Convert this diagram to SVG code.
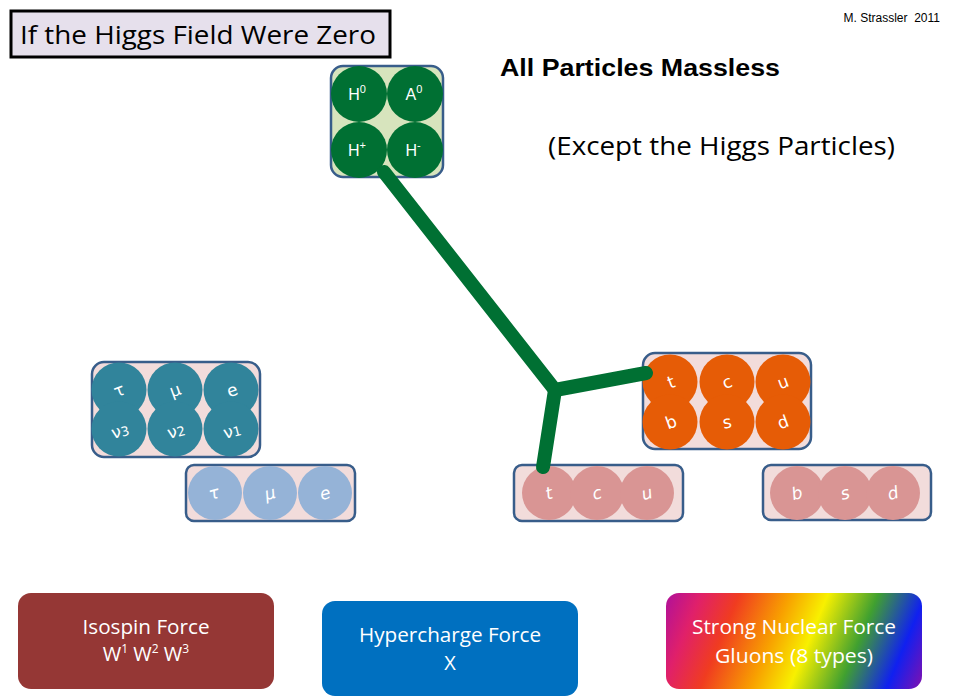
<svg xmlns="http://www.w3.org/2000/svg" width="955" height="698" viewBox="0 0 955 698">
<defs>
<linearGradient id="rainbow" gradientUnits="userSpaceOnUse" x1="666" y1="593" x2="918" y2="698">
<stop offset="0" stop-color="#b0109a"/>
<stop offset="0.12" stop-color="#e0206a"/>
<stop offset="0.25" stop-color="#f03c20"/>
<stop offset="0.42" stop-color="#f8a000"/>
<stop offset="0.55" stop-color="#f8f000"/>
<stop offset="0.72" stop-color="#40a030"/>
<stop offset="0.88" stop-color="#1020f0"/>
<stop offset="1" stop-color="#8010b0"/>
</linearGradient>
<style>
.box{fill:#f2dcdb;stroke:#385d8a;stroke-width:2.5}
.hbox{fill:#d7e4bd;stroke:#385d8a;stroke-width:2.5}
.hc{fill:#007033}
.lc{fill:#31849b}
.ls{fill:#95b3d7}
.qc{fill:#e65c06}
.qs{fill:#d99594}
.pl{fill:#fff;font-family:"DejaVu Sans",sans-serif;font-size:17px;text-anchor:middle}
.it{font-style:italic}
.hl{fill:#fff;font-family:"Liberation Sans",Arial,sans-serif;font-size:16px;text-anchor:middle}
.ft{fill:#fff;font-family:"Open Sans","Liberation Sans",sans-serif;font-size:20px;text-anchor:middle}
.conn{fill:none;stroke:#007033;stroke-width:14;stroke-linecap:round;stroke-linejoin:round}
</style>
</defs>
<rect width="955" height="698" fill="#fff"/>

<g id="title">
<rect x="11" y="11" width="379" height="46" fill="#e6e0ec" stroke="#000" stroke-width="3"/>
<text x="20" y="44" font-family="Open Sans, Liberation Sans, sans-serif" font-size="26" fill="#000" textLength="356" lengthAdjust="spacingAndGlyphs">If the Higgs Field Were Zero</text>
</g>
<text x="940" y="22" font-family="Liberation Sans, Arial, sans-serif" font-size="12" text-anchor="end" fill="#000">M. Strassler&#160; 2011</text>
<text x="500" y="76" font-family="Liberation Sans, Arial, sans-serif" font-size="24" font-weight="bold" fill="#000" textLength="280" lengthAdjust="spacingAndGlyphs">All Particles Massless</text>
<text x="548" y="155" font-family="Open Sans, Liberation Sans, sans-serif" font-size="26" fill="#000" textLength="347" lengthAdjust="spacingAndGlyphs">(Except the Higgs Particles)</text>

<g id="higgs">
<rect class="hbox" x="331" y="66" width="112" height="111" rx="12"/>
<circle class="hc" cx="359" cy="94" r="28"/>
<circle class="hc" cx="415" cy="94" r="28"/>
<circle class="hc" cx="359" cy="150" r="28"/>
<circle class="hc" cx="415" cy="150" r="28"/>
<text class="hl" x="357" y="100">H<tspan font-size="11" dy="-7">0</tspan></text>
<text class="hl" x="414" y="100">A<tspan font-size="11" dy="-7">0</tspan></text>
<text class="hl" x="357" y="156">H<tspan font-size="11" dy="-7">+</tspan></text>
<text class="hl" x="413" y="156">H<tspan font-size="11" dy="-7">-</tspan></text>
</g>

<g id="lepton-doublets">
<rect class="box" x="92" y="362" width="168" height="95" rx="12"/>
<circle class="lc" cx="119" cy="390" r="27.5"/>
<circle class="lc" cx="175" cy="390" r="27.5"/>
<circle class="lc" cx="231" cy="390" r="27.5"/>
<circle class="lc" cx="119" cy="429" r="27.5"/>
<circle class="lc" cx="175" cy="429" r="27.5"/>
<circle class="lc" cx="231" cy="429" r="27.5"/>
<text class="pl" x="119" y="396" transform="rotate(-20 119 390)">τ</text>
<text class="pl" x="175" y="396" transform="rotate(-20 175 390)">μ</text>
<text class="pl" x="232" y="396" transform="rotate(-20 232 390)">e</text>
<text class="pl" x="120" y="437" transform="rotate(-15 120 431)">ν<tspan font-size="13">3</tspan></text>
<text class="pl" x="176" y="437" transform="rotate(-15 176 431)">ν<tspan font-size="13">2</tspan></text>
<text class="pl" x="232" y="437" transform="rotate(-15 232 431)">ν<tspan font-size="13">1</tspan></text>
</g>

<g id="lepton-singlets">
<rect class="box" x="186" y="465" width="169" height="56" rx="8"/>
<circle class="ls" cx="215" cy="493" r="27"/>
<circle class="ls" cx="270" cy="493" r="27"/>
<circle class="ls" cx="325" cy="493" r="27"/>
<text class="pl it" x="214" y="499" transform="rotate(-15 214 493)">τ</text>
<text class="pl it" x="270" y="499" transform="rotate(-15 270 493)">μ</text>
<text class="pl it" x="325" y="499" transform="rotate(-15 325 493)">e</text>
</g>

<g id="quark-doublets">
<rect class="box" x="643" y="353" width="168" height="96" rx="12"/>
<circle class="qc" cx="670" cy="382" r="27.5"/>
<circle class="qc" cx="727" cy="382" r="27.5"/>
<circle class="qc" cx="783" cy="382" r="27.5"/>
<circle class="qc" cx="670" cy="422" r="27.5"/>
<circle class="qc" cx="727" cy="422" r="27.5"/>
<circle class="qc" cx="783" cy="422" r="27.5"/>
<text class="pl" x="671" y="388" transform="rotate(-20 671 382)">t</text>
<text class="pl" x="727" y="388" transform="rotate(-20 727 382)">c</text>
<text class="pl" x="783" y="388" transform="rotate(-20 783 382)">u</text>
<text class="pl" x="671" y="428" transform="rotate(-20 671 422)">b</text>
<text class="pl" x="727" y="428" transform="rotate(-10 727 422)">s</text>
<text class="pl" x="783" y="428" transform="rotate(-20 783 422)">d</text>
</g>

<g id="up-singlets">
<rect class="box" x="514" y="465" width="169" height="56" rx="8"/>
<circle class="qs" cx="549" cy="493" r="27"/>
<circle class="qs" cx="597" cy="493" r="27"/>
<circle class="qs" cx="647" cy="493" r="27"/>
<text class="pl it" x="549" y="499" transform="rotate(-15 549 493)">t</text>
<text class="pl it" x="597" y="499" transform="rotate(-15 597 493)">c</text>
<text class="pl it" x="647" y="499" transform="rotate(-15 647 493)">u</text>
</g>

<g id="down-singlets">
<rect class="box" x="763" y="465" width="168" height="55" rx="8"/>
<circle class="qs" cx="797" cy="493" r="27"/>
<circle class="qs" cx="845" cy="493" r="27"/>
<circle class="qs" cx="893" cy="493" r="27"/>
<text class="pl it" x="797" y="499" transform="rotate(-15 797 493)">b</text>
<text class="pl it" x="845" y="499" transform="rotate(-15 845 493)">s</text>
<text class="pl it" x="893" y="499" transform="rotate(-15 893 493)">d</text>
</g>

<g id="connectors">
<polyline class="conn" points="384,172 555,390 646,373"/>
<polyline class="conn" points="555,390 543,467"/>
</g>

<g id="isospin">
<rect x="18" y="593" width="256" height="96" rx="13" fill="#953735"/>
<text class="ft" x="146" y="634" textLength="127" lengthAdjust="spacingAndGlyphs">Isospin Force</text>
<text class="ft" x="146" y="661">W<tspan font-size="12" dy="-8">1</tspan><tspan dy="8"> W</tspan><tspan font-size="12" dy="-8">2</tspan><tspan dy="8"> W</tspan><tspan font-size="12" dy="-8">3</tspan></text>
</g>
<g id="hypercharge">
<rect x="322" y="601" width="256" height="95" rx="13" fill="#0070c0"/>
<text class="ft" x="450" y="642" textLength="182" lengthAdjust="spacingAndGlyphs">Hypercharge Force</text>
<text class="ft" x="450" y="670">X</text>
</g>
<g id="strong">
<rect x="666" y="593" width="256" height="96" rx="13" fill="url(#rainbow)"/>
<text class="ft" x="794" y="634" textLength="204" lengthAdjust="spacingAndGlyphs">Strong Nuclear Force</text>
<text class="ft" x="794" y="663" textLength="158" lengthAdjust="spacingAndGlyphs">Gluons (8 types)</text>
</g>
</svg>
